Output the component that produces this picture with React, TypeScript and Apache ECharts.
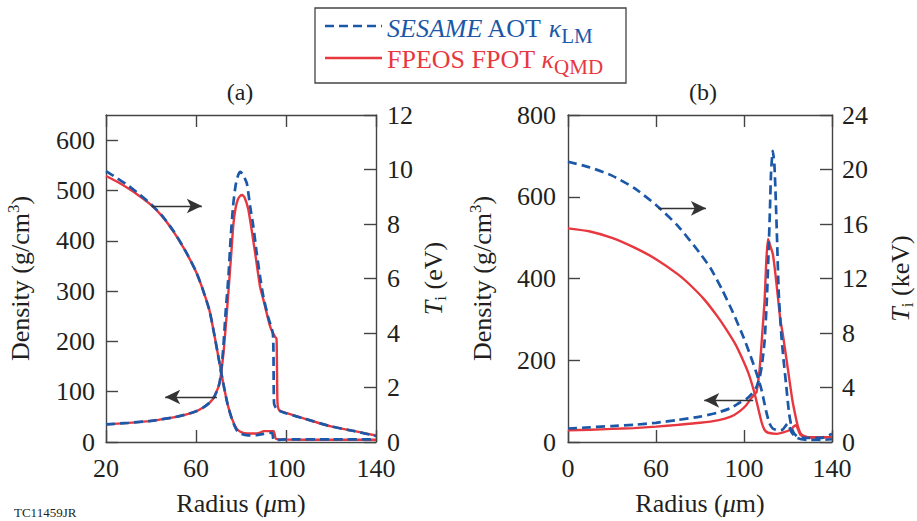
import React, { useEffect, useRef } from "react";
import * as echarts from "echarts";

// ---------- data ----------
const BLUE = "#1c58a8";
const RED = "#e8383f";
const INK = "#231f20";

const xTicksA = [20, 60, 100, 140];
const xTickLabelsA = ["20", "60", "100", "140"];
const xTicksB = [20, 60, 100, 140];
const xTickLabelsB = ["0", "60", "100", "140"];
const densTicksA = [0, 100, 200, 300, 400, 500, 600];
const tempTicksA = [0, 2, 4, 6, 8, 10, 12];
const densTicksB = [0, 200, 400, 600, 800];
const tempTicksB = [0, 4, 8, 12, 16, 20, 24];

// panel (a) ion temperature (eV)
const rTaRed = [20, 25, 30, 35, 40, 45, 50, 55, 60, 63, 66, 68, 70, 72, 74, 76, 78, 80, 83, 87, 89, 90, 94.5, 95.5, 100, 120, 140];
const TaRed = [9.76, 9.55, 9.3, 9.02, 8.7, 8.28, 7.72, 7.05, 6.25, 5.6, 4.82, 4.0, 3.1, 2.2, 1.4, 0.85, 0.5, 0.36, 0.31, 0.31, 0.36, 0.4, 0.4, 0.12, 0.09, 0.08, 0.08];
const rTaBlue = [20, 25, 30, 35, 40, 45, 50, 55, 60, 63, 66, 68, 70, 72, 74, 76, 78, 80, 83, 87, 90, 93.8, 94.4, 96, 100, 120, 140];
const TaBlue = [9.94, 9.68, 9.4, 9.08, 8.73, 8.3, 7.74, 7.06, 6.26, 5.6, 4.82, 4.0, 3.1, 2.2, 1.4, 0.83, 0.45, 0.3, 0.24, 0.25, 0.3, 0.34, 0.1, 0.08, 0.1, 0.1, 0.1];

// panel (a) density (g/cm3)
const rDaRed = [20, 30, 40, 50, 55, 60, 63, 66, 68, 70, 70.8, 72.2, 73.5, 74.6, 75.6, 76.6, 77.6, 78.6, 79.6, 80.5, 81.6, 83.3, 86.3, 88.5, 90, 93, 95, 95.8, 96.2, 97, 100, 108.5, 120, 130, 140];
const DaRed = [35, 38, 42, 49, 54, 61, 68, 78, 89, 110, 125, 176, 245, 310, 370, 432, 465, 482, 489, 491, 486, 461, 375, 308, 282, 229, 210, 205, 80, 63, 58, 46, 31, 22, 13];
const rDaBlue = [20, 30, 40, 50, 55, 60, 63, 66, 68, 70, 70.8, 72, 73.2, 74.4, 75.4, 76.5, 77.6, 78.7, 79.7, 80.8, 82.6, 84, 85.5, 87, 88.5, 90, 92, 94.2, 94.7, 96, 97, 100, 108.5, 120, 130, 140];
const DaBlue = [35, 38, 42, 49, 54, 61, 68, 78, 89, 110, 127, 180, 260, 328, 405, 470, 510, 530, 537, 532, 514, 470, 428, 375, 328, 288, 250, 214, 76, 64, 62, 57, 46, 31, 22, 12];

// panel (b) ion temperature (keV)
const rTbBlue = [20, 30, 40, 50, 60, 70, 80, 85, 90, 95, 100, 103, 106, 108, 110, 111.5, 113, 115, 117.5, 119.8, 121.5, 123.5, 126, 130, 135, 140];
const TbBlue = [20.57, 20.15, 19.55, 18.65, 17.4, 15.85, 13.85, 12.7, 11.2, 9.5, 7.6, 6.3, 4.9, 3.8, 2.3, 1.4, 1.0, 0.88, 0.9, 1.35, 0.75, 0.35, 0.2, 0.15, 0.15, 0.2];
const rTbRed = [20, 30, 40, 50, 60, 70, 76, 82, 88, 92, 96, 99, 102, 104.5, 106.5, 108, 109.3, 111, 115, 120.6, 123.5, 125.8, 129.5, 140];
const TbRed = [15.68, 15.45, 14.98, 14.28, 13.42, 12.3, 11.45, 10.45, 9.2, 8.25, 7.2, 6.2, 5.05, 3.75, 2.45, 1.45, 0.9, 0.68, 0.6, 0.86, 1.23, 0.5, 0.35, 0.35];

// panel (b) density (g/cm3)
const rDbBlue = [20, 30, 40, 50, 60, 70, 80, 88, 94, 98, 101, 103.5, 105.7, 107.2, 108.2, 109.4, 110.4, 111.2, 111.8, 112.3, 113.1, 113.8, 114.4, 115, 115.8, 117, 118, 119.1, 120.5, 122, 124, 127, 135, 140];
const DbBlue = [33, 36, 39, 42, 47, 54, 62, 72, 83, 96, 105, 118, 135, 160, 190, 250, 350, 470, 570, 660, 712, 680, 600, 500, 363, 260, 200, 143, 70, 29, 14, 10, 10, 20];
const rDbRed = [20, 30, 40, 50, 60, 70, 80, 88, 94, 98, 101, 103, 105, 105.7, 106.5, 107.2, 108.3, 109.4, 110.1, 110.9, 111.6, 113.1, 114.3, 115.4, 116.5, 117.6, 119.8, 122, 123.5, 124.5, 125.8, 128, 130, 140];
const DbRed = [28.6, 30, 32, 34, 37.5, 42, 47, 53, 62, 75, 90, 105, 118, 122, 150, 184, 265, 350, 440, 497, 485, 460, 410, 355, 300, 265, 184, 102, 61, 38, 20, 13, 11, 12];

// arrows (data coordinates): [r1, v1, r2, v2]
const arrowATemp = [40.3, 8.66, 62.6, 8.66];
const arrowADens = [69.3, 89.5, 46.3, 89.5];
const arrowBTemp = [61.1, 17.15, 82.7, 17.15];
const arrowBDens = [104.2, 102, 81.9, 102];

const FONT = "Liberation Serif";

const pairs = (xs: number[], ys: number[]) => xs.map((x, i) => [x, ys[i]]);

const richBase = {
  it: { fontFamily: FONT, fontStyle: "italic", fontSize: 26 },
  sup: { fontFamily: FONT, fontSize: 17, padding: [0, 0, 14, 0] },
  sub: { fontFamily: FONT, fontSize: 17, padding: [14, 0, 0, 0] },
};

function xAxes(gridIndex: number, ticks: number[], labels: string[]) {
  const line = { show: true, onZero: false, lineStyle: { color: "#444", width: 1.4 } };
  const bottom = {
    type: "value",
    gridIndex,
    position: "bottom",
    min: 20,
    max: 140,
    axisLine: line,
    splitLine: { show: false },
    axisTick: { show: true, inside: true, length: 12, customValues: ticks, lineStyle: { color: "#444", width: 1.4 } },
    axisLabel: {
      show: true,
      customValues: ticks,
      margin: 13,
      fontFamily: FONT,
      fontSize: 26,
      color: INK,
      formatter: (v: number) => {
        const i = ticks.indexOf(v);
        return i >= 0 ? labels[i] : "";
      },
    },
    name: "Radius ({it|μ}m)",
    nameLocation: "middle",
    nameGap: 48,
    nameTextStyle: { fontFamily: FONT, fontSize: 26, color: INK, rich: richBase },
  };
  const top = {
    type: "value",
    gridIndex,
    position: "top",
    min: 20,
    max: 140,
    axisLine: line,
    splitLine: { show: false },
    axisTick: { show: true, inside: true, length: 12, customValues: ticks, lineStyle: { color: "#444", width: 1.4 } },
    axisLabel: { show: false },
  };
  return [bottom, top];
}

function yAxis(gridIndex: number, position: string, max: number, ticks: number[], name: string, gap: number, margin: number) {
  return {
    type: "value",
    gridIndex,
    position,
    min: 0,
    max,
    axisLine: { show: true, onZero: false, lineStyle: { color: "#444", width: 1.4 } },
    splitLine: { show: false },
    axisTick: { show: true, inside: true, length: 12, customValues: ticks, lineStyle: { color: "#444", width: 1.4 } },
    axisLabel: { show: true, customValues: ticks, margin, fontFamily: FONT, fontSize: 26, color: INK, lineHeight: 22 },
    name,
    nameLocation: "middle",
    nameRotate: 90,
    nameGap: gap,
    nameTextStyle: { fontFamily: FONT, fontSize: 26, color: INK, rich: richBase },
  };
}

function arrowLine(a: number[]) {
  return {
    silent: true,
    symbol: ["none", "arrow"],
    symbolSize: [11, 15],
    label: { show: false },
    lineStyle: { color: "#333", type: "solid", width: 1.3 },
    emphasis: { disabled: true },
    data: [[{ coord: [a[0], a[1]] }, { coord: [a[2], a[3]] }]],
  };
}

function lineSeries(name: string, xi: number, yi: number, data: number[][], dashed: boolean, mark?: number[]) {
  const s: any = {
    name,
    type: "line",
    xAxisIndex: xi,
    yAxisIndex: yi,
    data,
    showSymbol: false,
    smooth: 0.2,
    clip: true,
    lineStyle: dashed
      ? { color: BLUE, width: 2.7, type: [9, 5] }
      : { color: RED, width: 2.4, type: "solid" },
    itemStyle: { color: dashed ? BLUE : RED },
    emphasis: { disabled: true },
    z: dashed ? 3 : 2,
  };
  if (mark) s.markLine = arrowLine(mark);
  return s;
}

export default function App() {
  const ref = useRef<HTMLDivElement>(null);
  useEffect(() => {
    if (!ref.current) return;
    const chart = echarts.init(ref.current, undefined, { renderer: "svg" });
    const [xa0, xa1] = xAxes(0, xTicksA, xTickLabelsA);
    const [xb0, xb1] = xAxes(1, xTicksB, xTickLabelsB);
    const legendRich = (color: string) => ({
      it: { fontFamily: FONT, fontStyle: "italic", fontSize: 26, fill: color },
      sub: { fontFamily: FONT, fontSize: 21, padding: [15, 0, 0, 0], fill: color },
    });
    const option: any = {
      animation: false,
      backgroundColor: "#ffffff",
      grid: [
        { left: 106, right: 541, top: 115, bottom: 79 },
        { left: 568, right: 80, top: 115, bottom: 79 },
      ],
      xAxis: [xa0, xa1, xb0, xb1],
      yAxis: [
        yAxis(0, "left", 650, densTicksA, "Density (g/cm{sup|3})", 70, 11),
        yAxis(0, "right", 12, tempTicksA, "{it|T}{sub|i} (eV)", 42, 11),
        yAxis(1, "left", 800, densTicksB, "Density (g/cm{sup|3})", 70, 12),
        yAxis(1, "right", 24, tempTicksB, "{it|T}{sub|i} (keV)", 53, 10),
      ],
      series: [
        lineSeries("FPEOS FPOT density (a)", 0, 0, pairs(rDaRed, DaRed), false, arrowADens),
        lineSeries("FPEOS FPOT Ti (a)", 0, 1, pairs(rTaRed, TaRed), false, arrowATemp),
        lineSeries("SESAME AOT density (a)", 0, 0, pairs(rDaBlue, DaBlue), true),
        lineSeries("SESAME AOT Ti (a)", 0, 1, pairs(rTaBlue, TaBlue), true),
        lineSeries("FPEOS FPOT density (b)", 2, 2, pairs(rDbRed, DbRed), false, arrowBDens),
        lineSeries("FPEOS FPOT Ti (b)", 2, 3, pairs(rTbRed, TbRed), false, arrowBTemp),
        lineSeries("SESAME AOT density (b)", 2, 2, pairs(rDbBlue, DbBlue), true),
        lineSeries("SESAME AOT Ti (b)", 2, 3, pairs(rTbBlue, TbBlue), true),
      ],
      graphic: [
        {
          type: "rect",
          shape: { x: 315, y: 8, width: 311, height: 75 },
          style: { fill: "#fff", stroke: "#444", lineWidth: 1.3 },
          z: 10,
        },
        {
          type: "line",
          shape: { x1: 325, y1: 26, x2: 382, y2: 26 },
          style: { stroke: BLUE, lineWidth: 2.7, lineDash: [9, 5] },
          z: 11,
        },
        {
          type: "line",
          shape: { x1: 325, y1: 58, x2: 382, y2: 58 },
          style: { stroke: RED, lineWidth: 2.4 },
          z: 11,
        },
        {
          type: "text",
          x: 387,
          y: 28,
          z: 11,
          style: {
            text: "{it|SESAME} AOT {it|κ}{sub|LM}",
            fill: BLUE,
            fontFamily: FONT,
            fontSize: 26,
            verticalAlign: "middle",
            rich: legendRich(BLUE),
          },
        },
        {
          type: "text",
          x: 387,
          y: 59,
          z: 11,
          style: {
            text: "FPEOS FPOT {it|κ}{sub|QMD}",
            fill: RED,
            fontFamily: FONT,
            fontSize: 26,
            verticalAlign: "middle",
            rich: legendRich(RED),
          },
        },
        {
          type: "text",
          x: 240,
          y: 92,
          style: { text: "(a)", fill: INK, fontFamily: FONT, fontSize: 24, align: "center", verticalAlign: "middle" },
        },
        {
          type: "text",
          x: 703,
          y: 92,
          style: { text: "(b)", fill: INK, fontFamily: FONT, fontSize: 24, align: "center", verticalAlign: "middle" },
        },
        {
          type: "text",
          x: 14,
          y: 506,
          style: { text: "TC11459JR", fill: INK, fontFamily: FONT, fontSize: 13, verticalAlign: "top" },
        },
      ],
    };
    chart.setOption(option);
    return () => chart.dispose();
  }, []);
  return (
    <div
      ref={ref}
      style={{ position: "fixed", left: 0, top: 0, width: 917, height: 521, background: "#fff" }}
    />
  );
}
